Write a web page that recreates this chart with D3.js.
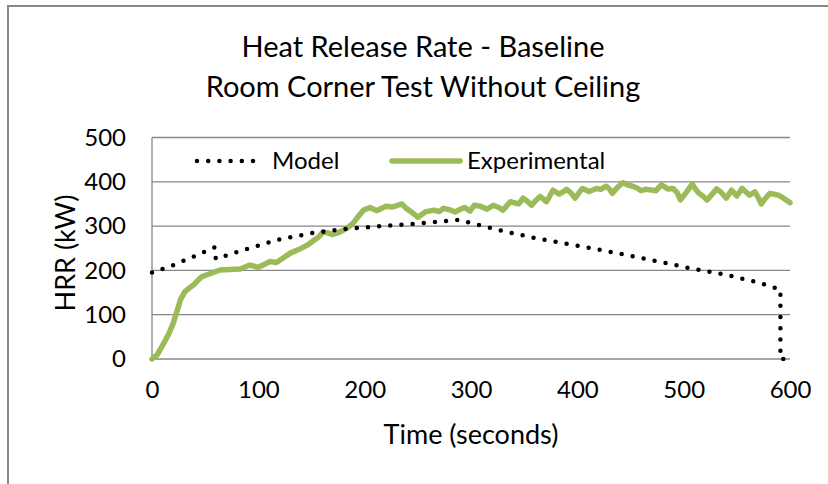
<!DOCTYPE html>
<html>
<head>
<meta charset="utf-8">
<script src="https://cdn.jsdelivr.net/npm/d3@7"></script>
<style>
  body { margin: 0; background: #fff; }
  svg { font-family: Lato, "Open Sans", sans-serif; }
</style>
</head>
<body>
<svg id="chart" width="828" height="484"></svg>
<script>
// values: [time (s), HRR (kW)]
var modelData = [
  [0,195],[20,212],[40,232],[59,252],[60,226],[90,249],[120,270],[150,284],[180,293],
  [210,299],[240,304],[270,310],[288,314],[300,307],[330,289],[360,273],[390,260],
  [420,247],[450,233],[480,218],[510,203],[540,190],[570,173],[591,157],[591,0],[600,0]
];
var expData = [
  [0,0],[5,10],[11,35],[16,58],[20,81],[24,112],[27,135],[31,152],[35,160],[39,167],
  [43,177],[47,186],[55,193],[64,201],[73,202],[83,203],[92,212],[100,207],[106,214],
  [111,220],[117,218],[124,229],[130,239],[138,247],[146,257],[153,269],[157,276],
  [161,287],[166,284],[170,281],[176,286],[180,291],[185,298],[189,306],[194,322],
  [199,336],[205,342],[211,335],[216,340],[220,345],[226,343],[230,346],[235,350],
  [239,340],[245,330],[250,320],[257,332],[265,336],[270,333],[274,340],[280,337],
  [285,332],[290,338],[294,342],[299,334],[303,347],[309,345],[315,338],[321,347],
  [326,342],[330,336],[337,355],[342,352],[345,350],[349,363],[353,356],[357,347],
  [361,358],[365,367],[371,355],[377,381],[383,372],[387,378],[390,383],[394,375],
  [398,363],[402,377],[405,385],[411,378],[418,385],[422,383],[427,390],[430,384],
  [433,374],[438,388],[443,398],[447,393],[452,390],[456,386],[460,380],[464,383],
  [468,382],[474,380],[479,393],[485,384],[490,385],[494,375],[497,359],[503,378],
  [508,395],[511,384],[514,375],[518,368],[522,359],[526,370],[531,384],[535,377],
  [540,363],[545,381],[550,368],[555,385],[559,376],[562,370],[567,377],[570,365],
  [573,350],[577,363],[581,374],[585,372],[589,370],[592,366],[595,361],[600,353]
];
var xTicks = [0,100,200,300,400,500,600];
var yTicks = [0,100,200,300,400,500];

var svg = d3.select("#chart");

// chart frame
svg.append("rect")
  .attr("x", 8).attr("y", 6)
  .attr("width", 830).attr("height", 490)
  .attr("fill", "#fff").attr("stroke", "#888").attr("stroke-width", 2);

var x = d3.scaleLinear().domain([0, 600]).range([152, 790]);
var y = d3.scaleLinear().domain([0, 500]).range([359, 137.5]);

// gridlines
svg.append("g")
  .selectAll("line")
  .data(yTicks)
  .enter().append("line")
    .attr("x1", x(0)).attr("x2", x(600))
    .attr("y1", function(d) { return y(d); })
    .attr("y2", function(d) { return y(d); })
    .attr("stroke", "#878787").attr("stroke-width", 1.3);

svg.append("line")
  .attr("x1", x(0)).attr("x2", x(0))
  .attr("y1", y(0)).attr("y2", y(500))
  .attr("stroke", "#878787").attr("stroke-width", 1.3);

// tick labels
var yAxis = svg.append("g")
  .attr("transform", "translate(" + x(0) + ",0)")
  .call(d3.axisLeft(y).tickValues(yTicks).tickSize(0).tickPadding(26));
var xAxis = svg.append("g")
  .attr("transform", "translate(0," + y(0) + ")")
  .call(d3.axisBottom(x).tickValues(xTicks).tickSize(0).tickPadding(22));
[yAxis, xAxis].forEach(function(a) {
  a.select(".domain").remove();
  a.selectAll("text")
    .attr("font-family", "Lato, 'Open Sans', sans-serif")
    .attr("font-size", 24)
    .attr("fill", "#000");
});

var line = d3.line()
  .x(function(d) { return x(d[0]); })
  .y(function(d) { return y(d[1]); });

svg.append("path")
  .datum(expData)
  .attr("d", line)
  .attr("fill", "none")
  .attr("stroke", "#9BBB59")
  .attr("stroke-width", 5.5)
  .attr("stroke-linejoin", "round")
  .attr("stroke-linecap", "round");

svg.append("path")
  .datum(modelData)
  .attr("d", line)
  .attr("fill", "none")
  .attr("stroke", "#000")
  .attr("stroke-width", 4.5)
  .attr("stroke-linecap", "round")
  .attr("stroke-dasharray", "0 11.2");

// titles
var title = svg.append("text")
  .attr("text-anchor", "middle")
  .attr("font-size", 29).attr("fill", "#000");
title.append("tspan").attr("x", 423).attr("y", 57).text("Heat Release Rate - Baseline");
title.append("tspan").attr("x", 423).attr("y", 97).text("Room Corner Test Without Ceiling");

svg.append("text")
  .attr("transform", "translate(75,253) rotate(-90)")
  .attr("text-anchor", "middle")
  .attr("font-size", 27).attr("fill", "#000")
  .text("HRR (kW)");

svg.append("text")
  .attr("x", 471).attr("y", 444)
  .attr("text-anchor", "middle")
  .attr("font-size", 27).attr("fill", "#000")
  .text("Time (seconds)");

// legend
var legend = svg.append("g");
legend.append("line")
  .attr("x1", 197).attr("x2", 257).attr("y1", 161).attr("y2", 161)
  .attr("stroke", "#000").attr("stroke-width", 4.5)
  .attr("stroke-linecap", "round").attr("stroke-dasharray", "0 11.2");
legend.append("text")
  .attr("x", 272).attr("y", 169).attr("font-size", 24).text("Model");
legend.append("line")
  .attr("x1", 392).attr("x2", 460).attr("y1", 161).attr("y2", 161)
  .attr("stroke", "#9BBB59").attr("stroke-width", 5.5)
  .attr("stroke-linecap", "round");
legend.append("text")
  .attr("x", 467).attr("y", 169).attr("font-size", 24).text("Experimental");
</script>
</body>
</html>
